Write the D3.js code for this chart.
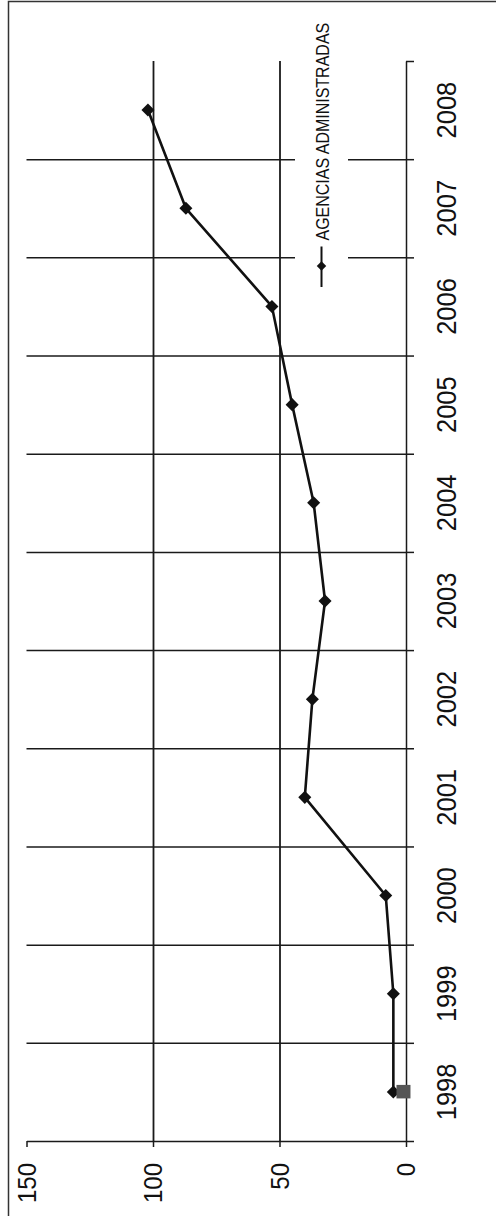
<!DOCTYPE html>
<html>
<head>
<meta charset="utf-8">
<script src="https://cdn.jsdelivr.net/npm/d3@7"></script>
<style>
  body { margin: 0; background: #fff; }
  text { font-family: "Liberation Sans", Arial, sans-serif; fill: #111; }
</style>
</head>
<body>
<div id="chart"></div>
<script>
// Chart values
var years = ["1998","1999","2000","2001","2002","2003","2004","2005","2006","2007","2008"];
var agencias = [5, 5, 8, 40, 37, 32, 36.5, 45, 53, 87, 102];
var extraYears = ["1998"];
var extraValues = [1];
var valueTicks = [0, 50, 100, 150];
var gridValues = [50, 100];
var legendLabel = "AGENCIAS ADMINISTRADAS";

var W = 496, H = 1216;
var plot = {left: 26.5, right: 406, top: 61, bottom: 1141};

var svg = d3.select("#chart").append("svg")
    .attr("width", W).attr("height", H);

// value runs right-to-left, categories bottom-to-top (chart is rotated)
var x = d3.scaleLinear().domain([0, 150]).range([plot.right, plot.left]);
var yBand = d3.scaleBand().domain(years).range([plot.bottom, plot.top]);
var yEdge = d3.scaleLinear().domain([0, years.length]).range([plot.bottom, plot.top]);
var yMid = function(d){ return yBand(d) + yBand.bandwidth() / 2; };

// outer frame (only left and top edges show)
svg.append("path")
    .attr("d", "M8.5," + H + "V1.5H" + W)
    .attr("fill", "none").attr("stroke", "#333").attr("stroke-width", 1.5);

// vertical gridlines at 50 and 100
svg.append("g")
    .attr("transform", "translate(0," + plot.bottom + ")")
    .call(d3.axisBottom(x).tickValues(gridValues).tickSize(-(plot.bottom - plot.top)).tickFormat(""))
    .call(g => g.select(".domain").remove())
    .selectAll("line").attr("stroke", "#1a1a1a").attr("stroke-width", 1.8);

// horizontal lines between categories
svg.append("g")
    .attr("transform", "translate(" + plot.right + ",0)")
    .call(d3.axisLeft(yEdge).tickValues(d3.range(1, years.length)).tickSize(plot.right - plot.left).tickFormat(""))
    .call(g => g.select(".domain").remove())
    .selectAll("line").attr("stroke", "#1a1a1a").attr("stroke-width", 1.5);

// category axis with outward ticks at the boundaries
var catAxis = svg.append("g")
    .attr("transform", "translate(" + plot.right + ",0)")
    .call(d3.axisRight(yEdge).tickValues(d3.range(0, years.length + 1)).tickSize(8).tickSizeOuter(0).tickFormat(""));
catAxis.selectAll("line,path").attr("stroke", "#1a1a1a").attr("stroke-width", 1.5);

// value axis
var valAxis = svg.append("g")
    .attr("transform", "translate(0," + plot.bottom + ")")
    .call(d3.axisBottom(x).tickValues(valueTicks).tickSize(6).tickSizeOuter(0));
valAxis.selectAll("line,path").attr("stroke", "#1a1a1a").attr("stroke-width", 1.5);
valAxis.selectAll("text")
    .attr("y", null).attr("dy", null)
    .style("font-size", "24px")
    .attr("text-anchor", "end")
    .attr("dominant-baseline", "central")
    .attr("transform", "translate(0,22) rotate(-90) scale(1,1.05)");

// year labels
svg.append("g").selectAll("text")
    .data(years).enter().append("text")
    .attr("text-anchor", "middle")
    .attr("dominant-baseline", "central")
    .style("font-size", "25.5px")
    .attr("transform", d => "translate(446," + yMid(d) + ") rotate(-90) scale(1,1.12)")
    .text(d => d);

// legend box (white, hides the grid behind it)
var legend = svg.append("g");
legend.append("rect")
    .attr("x", 295).attr("y", 12).attr("width", 53).attr("height", 282)
    .attr("fill", "#fff");
legend.append("line")
    .attr("x1", 321.5).attr("x2", 321.5).attr("y1", 246.5).attr("y2", 287)
    .attr("stroke", "#111").attr("stroke-width", 2);
legend.append("path")
    .attr("d", d3.symbol(d3.symbolSquare, 45)())
    .attr("transform", "translate(321.5,266) rotate(45)")
    .attr("fill", "#111");
legend.append("text")
    .attr("text-anchor", "start")
    .attr("dominant-baseline", "central")
    .style("font-size", "16px")
    .attr("transform", "translate(322.5,240.5) rotate(-90) scale(1,1.15)")
    .text(legendLabel);

// main series
var line = d3.line()
    .x(d => x(d.v))
    .y(d => yMid(d.year));
var pts = years.map((yr, i) => ({year: yr, v: agencias[i]}));

svg.append("path")
    .datum(pts)
    .attr("d", line)
    .attr("fill", "none")
    .attr("stroke", "#111")
    .attr("stroke-width", 2.6)
    .attr("stroke-linejoin", "round");

svg.append("g").selectAll("path")
    .data(pts).enter().append("path")
    .attr("d", d3.symbol(d3.symbolSquare, 85)())
    .attr("transform", d => "translate(" + x(d.v) + "," + yMid(d.year) + ") rotate(45)")
    .attr("fill", "#111");

// second series: single grey square
svg.append("g").selectAll("rect")
    .data(extraYears.map((yr, i) => ({year: yr, v: extraValues[i]}))).enter().append("rect")
    .attr("x", d => x(d.v) - 7)
    .attr("y", d => yMid(d.year) - 7)
    .attr("width", 14).attr("height", 13.5)
    .attr("fill", "#555");
</script>
</body>
</html>
